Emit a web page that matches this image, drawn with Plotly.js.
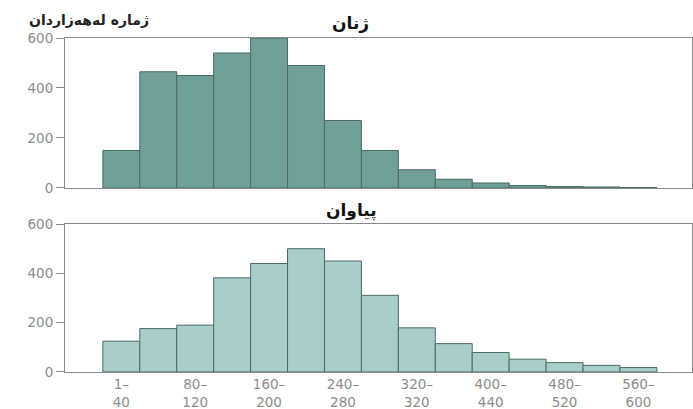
<!DOCTYPE html>
<html>
<head>
<meta charset="utf-8">
<script src="https://cdn.plot.ly/plotly-3.0.1.min.js"></script>
<style>html,body{margin:0;padding:0;background:#fff;}#chart{width:693px;height:409px;}</style>
</head>
<body>
<div id="chart"></div>
<script>
// bin centres (40-wide bins from 0 to 600)
const binCenters = [20, 60, 100, 140, 180, 220, 260, 300, 340, 380, 420, 460, 500, 540, 580];
// values in thousands
const women = [150, 465, 450, 540, 600, 490, 270, 150, 73, 35, 20, 10, 6, 4, 2];
const men = [125, 176, 190, 382, 440, 500, 450, 311, 179, 115, 79, 52, 38, 27, 18];
const tickPositions = [20, 100, 180, 260, 340, 420, 500, 580];
const tickLabels = ["1–<br>40", "80–<br>120", "160–<br>200", "240–<br>280", "320–<br>320", "400–<br>440", "480–<br>520", "560–<br>600"];
const titleWomen = "ژنان";
const titleMen = "پیاوان";
const yLabel = "ژماره لەهەزاردان";

const outline = {color: '#4a6b64', width: 1};
const traces = [
  {type: 'bar', x: binCenters, y: women, width: 40, xaxis: 'x', yaxis: 'y',
   marker: {color: '#6f9f96', line: outline}, hoverinfo: 'none'},
  {type: 'bar', x: binCenters, y: men, width: 40, xaxis: 'x2', yaxis: 'y2',
   marker: {color: '#a9cdc8', line: outline}, hoverinfo: 'none'}
];
const axisLine = '#8a8a8a';
const tickFont = {family: 'DejaVu Sans, sans-serif', size: 13.5, color: '#8c8c8c'};
const xbase = {range: [-41, 638], showgrid: false, zeroline: false, showline: true, linecolor: axisLine,
  linewidth: 1, mirror: true, ticks: '', fixedrange: true};
const ybase = {range: [0, 600], tickvals: [0, 200, 400, 600], showgrid: false, zeroline: false,
  showline: true, linecolor: axisLine, linewidth: 1, mirror: true, ticks: 'outside', ticklen: 8,
  tickcolor: axisLine, tickfont: tickFont, fixedrange: true};
const layout = {
  width: 693, height: 409,
  margin: {l: 65, r: 1, t: 38, b: 37},
  paper_bgcolor: '#ffffff', plot_bgcolor: '#ffffff',
  showlegend: false, bargap: 0,
  xaxis: Object.assign({}, xbase, {domain: [0, 1], anchor: 'y', showticklabels: false}),
  yaxis: Object.assign({}, ybase, {domain: [0.551, 1], anchor: 'x'}),
  xaxis2: Object.assign({}, xbase, {domain: [0, 1], anchor: 'y2', tickvals: tickPositions,
    ticktext: tickLabels, tickfont: tickFont, showticklabels: true}),
  yaxis2: Object.assign({}, ybase, {domain: [0, 0.443], anchor: 'x2'}),
  annotations: [
    {text: '<b>' + titleWomen + '</b>', xref: 'paper', yref: 'paper', x: 0.455, y: 1.0, yshift: 3,
     xanchor: 'center', yanchor: 'bottom', showarrow: false,
     font: {family: 'DejaVu Sans, sans-serif', size: 17, color: '#111'}},
    {text: '<b>' + titleMen + '</b>', xref: 'paper', yref: 'paper', x: 0.457, y: 0.443, yshift: 1,
     xanchor: 'center', yanchor: 'bottom', showarrow: false,
     font: {family: 'DejaVu Sans, sans-serif', size: 17, color: '#111'}},
    {text: '<b>' + yLabel + '</b>', xref: 'paper', yref: 'paper', x: -0.06, y: 1.0, yshift: 8,
     xanchor: 'left', yanchor: 'bottom', showarrow: false,
     font: {family: 'DejaVu Sans, sans-serif', size: 14, color: '#222'}}
  ]
};
Plotly.newPlot('chart', traces, layout, {displayModeBar: false, staticPlot: true});
</script>
</body>
</html>
